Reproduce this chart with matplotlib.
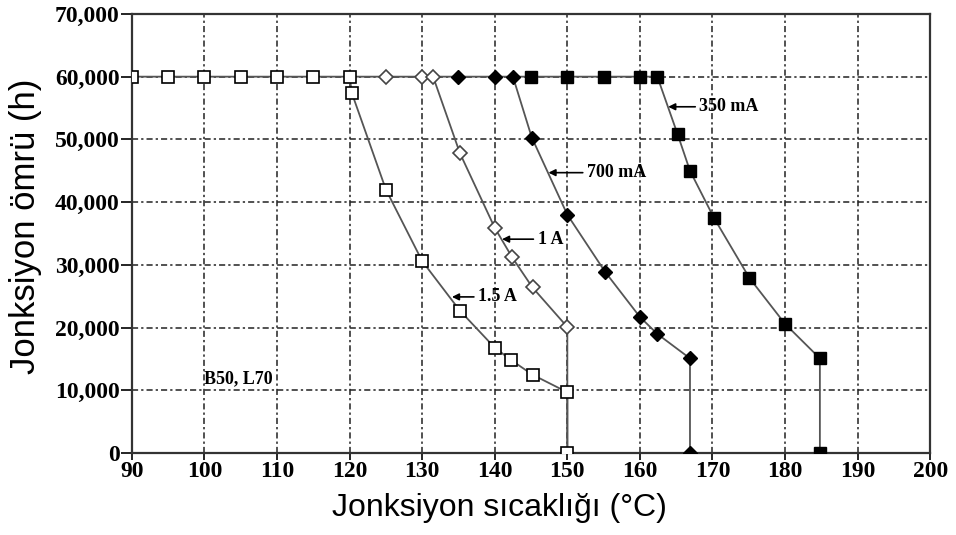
import matplotlib
matplotlib.use('Agg')
import matplotlib.pyplot as plt

# junction temperature (C) vs junction life (h)
t_15a = [90, 95, 100, 105, 110, 115, 120, 120.3, 125, 130, 135.2, 140, 142.3, 145.2, 150, 150]
h_15a = [60000, 60000, 60000, 60000, 60000, 60000, 60000, 57400, 42000, 30600, 22700, 16800, 14800, 12500, 9700, 0]

t_1a = [120, 125, 130, 131.5, 135.2, 140, 142.4, 145.2, 150, 150]
h_1a = [60000, 60000, 60000, 60000, 47800, 35900, 31200, 26400, 20100, 0]

t_700 = [131.5, 135, 140, 142.5, 145.1, 150, 155.2, 160, 162.4, 166.9, 166.9]
h_700 = [60000, 60000, 60000, 60000, 50300, 38000, 28900, 21700, 19000, 15100, 0]

t_350 = [142.5, 145, 150, 155, 160, 162.4, 165.2, 166.9, 170.2, 175.1, 180, 184.8, 184.8]
h_350 = [60000, 60000, 60000, 60000, 60000, 60000, 50800, 45000, 37500, 27900, 20600, 15100, 0]

x_ticks = list(range(90, 201, 10))
y_ticks = list(range(0, 70001, 10000))

serif = 'Liberation Serif'
line_col = '#555555'

fig = plt.figure(figsize=(9.56, 5.35), dpi=100)
ax = fig.add_axes([0.138, 0.153, 0.835, 0.821])

ax.grid(True, color='#222222', linestyle=(0, (4, 2, 1.5, 2)), linewidth=1.1)
ax.set_axisbelow(True)

# lines first, then markers (skip markers where the reference shows none)
ax.plot(t_15a, h_15a, color=line_col, lw=1.3, zorder=3)
ax.plot(t_1a, h_1a, color=line_col, lw=1.3, zorder=3)
ax.plot(t_700, h_700, color=line_col, lw=1.3, zorder=3)
ax.plot(t_350, h_350, color=line_col, lw=1.3, zorder=3)

ax.plot(t_15a, h_15a, 's', ms=8, mfc='white', mec='black', mew=1.2, zorder=6)
ax.plot(t_1a[1:-1], h_1a[1:-1], 'D', ms=7, mfc='white', mec='#444444', mew=1.2, zorder=5)
ax.plot(t_700[1:], h_700[1:], 'D', ms=7.5, mfc='black', mec='black', zorder=5)
ax.plot(t_350[1:], h_350[1:], 's', ms=8, mfc='black', mec='black', zorder=4)

# curve labels with arrows
lab_kw = dict(fontsize=13, fontweight='bold', family=serif, va='center', ha='left')
arr = dict(arrowstyle='-|>', color='black', lw=1.2, mutation_scale=10,
           shrinkA=1, shrinkB=0)
ax.annotate('350 mA', xy=(163.9, 55200), xytext=(168.2, 55200), arrowprops=arr, **lab_kw)
ax.annotate('700 mA', xy=(147.4, 44700), xytext=(152.7, 44700), arrowprops=arr, **lab_kw)
ax.annotate('1 A', xy=(141.0, 34100), xytext=(145.9, 34100), arrowprops=arr, **lab_kw)
ax.annotate('1.5 A', xy=(134.1, 24900), xytext=(137.7, 24900), arrowprops=arr, **lab_kw)
ax.text(100, 11900, 'B50, L70', **lab_kw)

ax.set_xlim(90, 200)
ax.set_ylim(0, 70000)
ax.set_xticks(x_ticks)
ax.set_yticks(y_ticks)
ax.set_xticklabels([str(v) for v in x_ticks], family=serif, fontsize=17, fontweight='bold')
ax.set_yticklabels(['{:,}'.format(v) for v in y_ticks], family=serif, fontsize=17, fontweight='bold')
ax.tick_params(axis='x', direction='out', length=5, width=1.2, pad=1)
ax.tick_params(axis='y', direction='out', length=8, width=1.2, pad=1)
for s in ax.spines.values():
    s.set_linewidth(1.6)
    s.set_color('#333333')

ax.set_xlabel('Jonksiyon sıcaklığı (°C)', family='Liberation Sans', fontsize=23)
ax.set_ylabel('Jonksiyon ömrü (h)', family='Liberation Sans', fontsize=25)
ax.xaxis.set_label_coords(0.46, -0.091)
ax.yaxis.set_label_coords(-0.113, 0.516)

fig.savefig('out.png', dpi=100)
